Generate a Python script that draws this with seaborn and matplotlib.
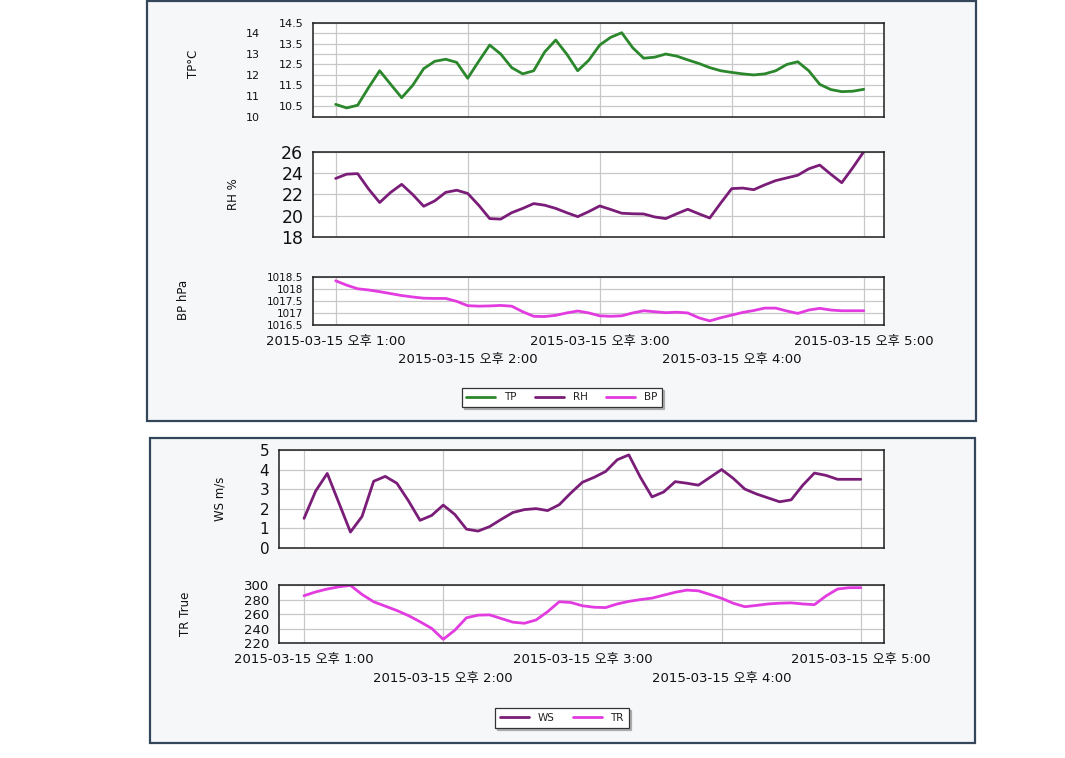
import matplotlib
matplotlib.use("Agg")
import matplotlib.pyplot as plt
import pandas as pd
import seaborn as sns
from matplotlib.patches import Rectangle

# ---------------- data (minutes after 2015-03-15 오후 1:00) ----------------
minutes = list(range(0, 241, 5))
tp = [10.59, 10.42, 10.55, 11.4, 12.2, 11.55, 10.91, 11.5, 12.3, 12.65, 12.75, 12.6, 11.84,
      12.65, 13.43, 13.0, 12.35, 12.05, 12.2, 13.1, 13.67, 13.0, 12.2, 12.7, 13.43, 13.8,
      14.02, 13.3, 12.8, 12.85, 13.0, 12.9, 12.72, 12.55, 12.35, 12.2, 12.12, 12.05, 12.0,
      12.05, 12.2, 12.5, 12.63, 12.2, 11.55, 11.3, 11.2, 11.22, 11.31]
rh = [23.5, 23.9, 23.95, 22.5, 21.25, 22.2, 22.95, 22.0, 20.9, 21.4, 22.2, 22.4, 22.1,
      21.0, 19.75, 19.7, 20.3, 20.7, 21.15, 21.0, 20.7, 20.3, 19.93, 20.4, 20.93, 20.6,
      20.25, 20.2, 20.18, 19.9, 19.75, 20.2, 20.62, 20.2, 19.8, 21.2, 22.55, 22.6, 22.45,
      22.9, 23.3, 23.55, 23.8, 24.4, 24.75, 23.9, 23.1, 24.5, 26.0]
bp = [1018.33, 1018.15, 1018.0, 1017.95, 1017.88, 1017.8, 1017.72, 1017.66, 1017.61,
      1017.6, 1017.6, 1017.48, 1017.3, 1017.28, 1017.29, 1017.31, 1017.28, 1017.05,
      1016.86, 1016.85, 1016.9, 1017.0, 1017.08, 1017.0, 1016.88, 1016.86, 1016.88,
      1017.0, 1017.09, 1017.05, 1017.01, 1017.03, 1017.0, 1016.8, 1016.67, 1016.8,
      1016.91, 1017.02, 1017.1, 1017.2, 1017.2, 1017.08, 1016.98, 1017.12, 1017.19,
      1017.12, 1017.09, 1017.09, 1017.09]
ws = [1.5, 2.9, 3.8, 2.3, 0.8, 1.6, 3.4, 3.65, 3.3, 2.4, 1.4, 1.65, 2.18, 1.7, 0.95, 0.85,
      1.08, 1.45, 1.8, 1.95, 2.0, 1.9, 2.2, 2.8, 3.35, 3.6, 3.9, 4.5, 4.75, 3.6, 2.6, 2.85,
      3.38, 3.3, 3.2, 3.6, 4.0, 3.55, 3.0, 2.75, 2.55, 2.35, 2.45, 3.2, 3.82, 3.7, 3.5,
      3.5, 3.5]
tr = [285.3, 290.5, 294.5, 297.5, 299.5, 287, 277, 271, 265, 258, 249.6, 240.5, 225.5,
      238, 255, 258.6, 259, 254, 249, 247.5, 252, 263.4, 277, 276, 271.5, 269.5, 269, 274,
      277.5, 280, 282, 286, 290, 293, 292, 287, 281.7, 275, 270.2, 272, 274, 275, 275.5,
      274, 273, 285, 294.5, 296.3, 296.3]

xtick_minutes = [0, 60, 120, 180, 240]
xtick_labels = ["2015-03-15 오후 1:00", "2015-03-15 오후 2:00", "2015-03-15 오후 3:00",
                "2015-03-15 오후 4:00", "2015-03-15 오후 5:00"]
tp_ticks = [10, 10.5, 11, 11.5, 12, 12.5, 13, 13.5, 14, 14.5]
rh_ticks = [18, 20, 22, 24, 26]
bp_ticks = [1016.5, 1017, 1017.5, 1018, 1018.5]
ws_ticks = [0, 1, 2, 3, 4, 5]
tr_ticks = [220, 240, 260, 280, 300]

df = pd.DataFrame({"minute": minutes, "TP": tp, "RH": rh, "BP": bp, "WS": ws, "TR": tr})

# ---------------- style ----------------
sns.set_theme(style="white")
plt.rcParams["font.family"] = ["DejaVu Sans", "Noto Sans CJK KR"]
plt.rcParams["axes.unicode_minus"] = False

C_TP = "#2b872b"
C_RH = "#7a1d78"
C_BP = "#e23be0"
C_WS = "#7a1d78"
C_TR = "#e23be0"
GRID = "#c8c8c8"
SPINE = "#1e1e1e"

W, H = 1065, 758
fig = plt.figure(figsize=(W / 100, H / 100), dpi=100)
fig.patch.set_facecolor("white")


def frac_rect(x0, y0, x1, y1):
    return [x0 / W, 1 - y1 / H, (x1 - x0) / W, (y1 - y0) / H]


# panel backgrounds
for (x0, y0, x1, y1) in [(147, 1, 976, 421), (150, 438, 975, 743)]:
    r = frac_rect(x0, y0, x1, y1)
    fig.patches.append(Rectangle((r[0], r[1]), r[2], r[3], transform=fig.transFigure,
                                 facecolor="#f6f7f9", edgecolor="#34465a", lw=1.6,
                                 zorder=-10))


def style_axes(ax, yticks, ysize, ylabel, labelx, labely, xlim, ylim, show_x):
    ax.set_facecolor("white")
    ax.set_xlim(*xlim)
    ax.set_ylim(*ylim)
    ax.set_xticks(xtick_minutes)
    ax.set_yticks(yticks)
    ax.set_yticklabels([f"{t:g}" for t in yticks], fontsize=ysize, color="#111")
    ax.grid(True, color=GRID, lw=0.9)
    for s in ax.spines.values():
        s.set_color(SPINE)
        s.set_linewidth(1.1)
    ax.tick_params(axis="both", direction="out", length=5, width=1, color=SPINE, pad=2)
    ax.set_xlabel("")
    ax.set_ylabel(ylabel, fontsize=8.5, color="#111", va="center")
    ax.yaxis.set_label_coords(labelx, labely)
    if show_x:
        ax.set_xticklabels(xtick_labels, fontsize=9.5, color="#111")
        for i, tk in enumerate(ax.xaxis.get_major_ticks()):
            tk.set_pad(2 if i % 2 == 0 else 15.5)
    else:
        ax.set_xticklabels([])
    leg = ax.get_legend()
    if leg is not None:
        leg.remove()


xlim_top = (-10.3, 249.2)
xlim_bot = (-10.8, 250.0)

ax_tp = fig.add_axes(frac_rect(313, 22.7, 884, 116.7))
ax_rh = fig.add_axes(frac_rect(313, 151.7, 884, 237.3))
ax_bp = fig.add_axes(frac_rect(313, 276.7, 884, 325))
ax_ws = fig.add_axes(frac_rect(279, 450, 884, 547.7))
ax_tr = fig.add_axes(frac_rect(279, 585, 884, 643.3))

LW = 2.0
sns.lineplot(data=df, x="minute", y="TP", ax=ax_tp, color=C_TP, lw=LW, label="TP")
sns.lineplot(data=df, x="minute", y="RH", ax=ax_rh, color=C_RH, lw=LW, label="RH")
sns.lineplot(data=df, x="minute", y="BP", ax=ax_bp, color=C_BP, lw=LW, label="BP")
sns.lineplot(data=df, x="minute", y="WS", ax=ax_ws, color=C_WS, lw=LW, label="WS")
sns.lineplot(data=df, x="minute", y="TR", ax=ax_tr, color=C_TR, lw=LW, label="TR")

h_top = []
for a in (ax_tp, ax_rh, ax_bp):
    h, l = a.get_legend_handles_labels()
    h_top += list(zip(h, l))
h_bot = []
for a in (ax_ws, ax_tr):
    h, l = a.get_legend_handles_labels()
    h_bot += list(zip(h, l))

style_axes(ax_tp, tp_ticks, 8, "TP°C", -0.210, 0.56, xlim_top, (10, 14.5), False)
style_axes(ax_rh, rh_ticks, 12.5, "RH %", -0.140, 0.51, xlim_top, (18, 26), False)
style_axes(ax_bp, bp_ticks, 7.5, "BP hPa", -0.227, 0.52, xlim_top, (1016.5, 1018.5), True)
style_axes(ax_ws, ws_ticks, 11, "WS m/s", -0.0975, 0.50, xlim_bot, (0, 5), False)
style_axes(ax_tr, tr_ticks, 9.5, "TR True", -0.155, 0.50, xlim_bot, (220, 300), True)

# staggered TP labels: integers pushed further left
for v, tk in zip(tp_ticks, ax_tp.yaxis.get_major_ticks()):
    tk.set_pad(33 if float(v).is_integer() else 2)


def add_legend(pairs, cx, cy):
    handles = [p[0] for p in pairs]
    labels = [p[1] for p in pairs]
    lg = fig.legend(handles, labels, loc="center", bbox_to_anchor=(cx / W, 1 - cy / H),
                    ncol=len(labels), fontsize=7.5, frameon=True, fancybox=False,
                    shadow={"ox": 1.5, "oy": -1.5, "color": "#9a9a9a", "alpha": 0.7},
                    handlelength=2.8, handletextpad=0.8, columnspacing=1.8,
                    borderpad=0.45, edgecolor="#333333")
    lg.get_frame().set_linewidth(0.9)
    lg.get_frame().set_facecolor("white")
    for t in lg.get_texts():
        t.set_color("#222")


add_legend(h_top, 561.7, 397.5)
add_legend(h_bot, 561.9, 718)

fig.savefig("out.png", dpi=100, facecolor="white")
